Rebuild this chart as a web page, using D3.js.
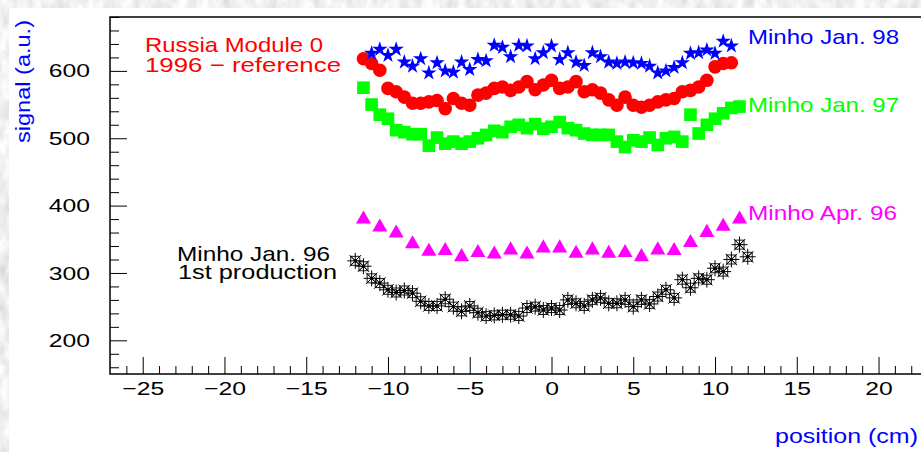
<!DOCTYPE html>
<html>
<head>
<meta charset="utf-8">
<script src="https://cdn.jsdelivr.net/npm/d3@7/dist/d3.min.js"></script>
<style>
  html, body { margin: 0; padding: 0; background: #ffffff; }
  svg { display: block; }
  text { font-family: "Liberation Sans", Arial, sans-serif; }
</style>
</head>
<body>
<svg id="chart" width="921" height="452"></svg>
<script>
// Signal uniformity scans along the module (position in cm, signal in a.u.)
const posJan98 = [-11, -10.5, -10, -9.5, -9, -8.5, -8, -7.5, -7, -6.5, -6, -5.5, -5, -4.5, -4, -3.5, -3, -2.5, -2, -1.5, -1, -0.5, 0, 0.5, 1, 1.5, 2, 2.5, 3, 3.5, 4, 4.5, 5, 5.5, 6, 6.5, 7, 7.5, 8, 8.5, 9, 9.5, 10, 10.5, 11];
const sigJan98 = [626, 632, 623, 632, 613, 607, 618, 597, 612, 600, 598, 613, 602, 617, 615, 638, 635, 621, 638, 637, 618, 627, 637, 617, 627, 613, 608, 627, 621, 613, 611, 613, 612, 611, 607, 597, 600, 605, 612, 626, 627, 631, 626, 644, 637];

const posRussia = [-11.5, -11, -10.5, -10, -9.5, -9, -8.5, -8, -7.5, -7, -6.5, -6, -5.5, -5, -4.5, -4, -3.5, -3, -2.5, -2, -1.5, -1, -0.5, 0, 0.5, 1, 1.5, 2, 2.5, 3, 3.5, 4, 4.5, 5, 5.5, 6, 6.5, 7, 7.5, 8, 8.5, 9, 9.5, 10, 10.5, 11];
const sigRussia = [618, 611, 601, 574, 569, 561, 552, 552, 554, 556, 544, 559, 552, 549, 564, 567, 574, 576, 571, 576, 584, 572, 579, 586, 574, 576, 584, 569, 572, 567, 557, 549, 561, 549, 546, 549, 554, 557, 559, 569, 571, 576, 586, 606, 611, 612];

const posJan97 = [-11.5, -11, -10.5, -10, -9.5, -9, -8.5, -8, -7.5, -7, -6.5, -6, -5.5, -5, -4.5, -4, -3.5, -3, -2.5, -2, -1.5, -1, -0.5, 0, 0.5, 1, 1.5, 2, 2.5, 3, 3.5, 4, 4.5, 5, 5.5, 6, 6.5, 7, 7.5, 8, 8.5, 9, 9.5, 10, 10.5, 11, 11.5];
const sigJan97 = [575, 550, 535, 529, 512, 509, 506, 506, 489, 501, 492, 495, 492, 495, 500, 505, 511, 509, 517, 520, 515, 521, 514, 517, 524, 515, 512, 507, 505, 505, 505, 495, 487, 497, 495, 501, 490, 500, 502, 495, 535, 507, 520, 529, 537, 545, 547];

const posApr96 = [-11.5, -10.5, -9.5, -8.5, -7.5, -6.5, -5.5, -4.5, -3.5, -2.5, -1.5, -0.5, 0.5, 1.5, 2.5, 3.5, 4.5, 5.5, 6.5, 7.5, 8.5, 9.5, 10.5, 11.5];
const sigApr96 = [380, 368, 359, 343, 332, 333, 324, 330, 328, 334, 328, 337, 337, 329, 334, 329, 330, 324, 334, 333, 345, 360, 369, 380];

const posJan96 = [-12, -11.5, -11, -10.5, -10, -9.5, -9, -8.5, -8, -7.5, -7, -6.5, -6, -5.5, -5, -4.5, -4, -3.5, -3, -2.5, -2, -1.5, -1, -0.5, 0, 0.5, 1, 1.5, 2, 2.5, 3, 3.5, 4, 4.5, 5, 5.5, 6, 6.5, 7, 7.5, 8, 8.5, 9, 9.5, 10, 10.5, 11, 11.5, 12];
const sigJan96 = [318, 310, 292, 285, 275, 271, 274, 270, 258, 251, 251, 261, 250, 243, 251, 241, 236, 237, 238, 238, 236, 248, 250, 245, 248, 245, 260, 255, 251, 260, 263, 255, 255, 260, 250, 260, 254, 265, 275, 263, 290, 278, 292, 290, 307, 302, 320, 342, 324];

const xMajorTicks = [-25, -20, -15, -10, -5, 0, 5, 10, 15, 20];
const yMajorTicks = [200, 300, 400, 500, 600];

const svg = d3.select("#chart");

// Grainy grey paper around the white canvas
const defs = svg.append("defs");
const grain = defs.append("filter").attr("id", "grain")
  .attr("x", 0).attr("y", 0).attr("width", "100%").attr("height", "100%");
grain.append("feTurbulence").attr("type", "fractalNoise")
  .attr("baseFrequency", "0.09 0.05").attr("numOctaves", 3).attr("seed", 7).attr("result", "n");
grain.append("feColorMatrix").attr("in", "n").attr("type", "matrix")
  .attr("values", "0.5 0 0 0 0.62  0.5 0 0 0 0.62  0.5 0 0 0 0.62  0 0 0 0 1");
svg.append("rect").attr("width", 921).attr("height", 452).attr("filter", "url(#grain)");
svg.append("rect").attr("x", 9).attr("y", 8).attr("width", 912).attr("height", 444).attr("fill", "#ffffff");

const x = d3.scaleLinear().domain([-27, 27]).range([110, 993]);
const y = d3.scaleLinear().domain([150, 680]).range([374, 17]);

// Stretch text horizontally to the wide raster look
function widen(sel, k) {
  sel.each(function () {
    const w = this.getComputedTextLength();
    d3.select(this).attr("textLength", w * k).attr("lengthAdjust", "spacingAndGlyphs");
  });
}

// Axes: ticks point into the frame
const xMinor = d3.range(-26, 26).filter(v => v % 5 !== 0);
svg.append("g").attr("transform", "translate(0,374)")
  .call(d3.axisBottom(x).tickValues(xMinor).tickSizeInner(-8).tickSizeOuter(0).tickFormat(""))
  .call(g => g.select(".domain").remove());
const gx = svg.append("g").attr("transform", "translate(0,374)")
  .call(d3.axisBottom(x).tickValues(xMajorTicks).tickSizeInner(-17).tickSizeOuter(0).tickPadding(8))
  .call(g => g.select(".domain").remove());
gx.selectAll("text").attr("font-size", 19).attr("fill", "#000")
  .style("font-family", "'Liberation Sans', Arial, sans-serif");
widen(gx.selectAll("text"), 1.3);

const yMinor = d3.range(160, 681, 20).filter(v => v % 100 !== 0);
svg.append("g").attr("transform", "translate(110,0)")
  .call(d3.axisLeft(y).tickValues(yMinor).tickSizeInner(-9).tickSizeOuter(0).tickFormat(""))
  .call(g => g.select(".domain").remove());
const gy = svg.append("g").attr("transform", "translate(110,0)")
  .call(d3.axisLeft(y).tickValues(yMajorTicks).tickSizeInner(-17).tickSizeOuter(0).tickPadding(20))
  .call(g => g.select(".domain").remove());
gy.selectAll("text").attr("font-size", 19).attr("fill", "#000")
  .style("font-family", "'Liberation Sans', Arial, sans-serif");
widen(gy.selectAll("text"), 1.3);
svg.selectAll(".tick line").attr("stroke", "#000").attr("stroke-width", 1);

// Frame
svg.append("rect").attr("x", 110).attr("y", 17).attr("width", 883).attr("height", 357)
  .attr("fill", "none").attr("stroke", "#000").attr("stroke-width", 1.5);

// Axis titles
svg.append("text").attr("transform", "translate(30,20) rotate(-90)")
  .attr("text-anchor", "end").attr("font-size", 20).attr("fill", "#0000ff")
  .attr("textLength", 123).attr("lengthAdjust", "spacingAndGlyphs").text("signal (a.u.)");
svg.append("text").attr("x", 775).attr("y", 443).attr("font-size", 20).attr("fill", "#0000ff")
  .attr("textLength", 143).attr("lengthAdjust", "spacingAndGlyphs").text("position (cm)");

// Markers
const plot = svg.append("g");

// Jan. 96: asterisks with small boxed crosses
const asterisk = "M0,-8L0,8M-8,0L8,0M-5.7,-5.7L5.7,5.7M-5.7,5.7L5.7,-5.7";
const boxX = "M-4.5,-4.5H4.5V4.5H-4.5Z M-4.5,-4.5L4.5,4.5M-4.5,4.5L4.5,-4.5";
const jan96 = plot.append("g").selectAll("g").data(d3.zip(posJan96, sigJan96)).join("g")
  .attr("transform", d => `translate(${x(d[0])},${y(d[1])})`);
jan96.append("path").attr("d", boxX).attr("fill", "none").attr("stroke", "#000").attr("stroke-width", 0.9);
jan96.append("path").attr("d", asterisk).attr("fill", "none").attr("stroke", "#000").attr("stroke-width", 1);
jan96.append("circle").attr("r", 1.8).attr("fill", "#000");

// Apr. 96: triangles
plot.append("g").selectAll("path").data(d3.zip(posApr96, sigApr96)).join("path")
  .attr("d", d3.symbol(d3.symbolTriangle, 98))
  .attr("transform", d => `translate(${x(d[0])},${y(d[1])})`)
  .attr("fill", "#ff00ff");

// Jan. 97: squares
plot.append("g").selectAll("path").data(d3.zip(posJan97, sigJan97)).join("path")
  .attr("d", d3.symbol(d3.symbolSquare, 160))
  .attr("transform", d => `translate(${x(d[0])},${y(d[1])})`)
  .attr("fill", "#00ff00");

// Russia Module 0 reference: circles
plot.append("g").selectAll("circle").data(d3.zip(posRussia, sigRussia)).join("circle")
  .attr("cx", d => x(d[0])).attr("cy", d => y(d[1])).attr("r", 6.8)
  .attr("fill", "#ff0000");

// Jan. 98: stars
plot.append("g").selectAll("path").data(d3.zip(posJan98, sigJan98)).join("path")
  .attr("d", d3.symbol(d3.symbolStar, 74))
  .attr("transform", d => `translate(${x(d[0])},${y(d[1])})`)
  .attr("fill", "#0000ff");

// Series labels
function label(txt, px, py, color, len, anchor) {
  svg.append("text").attr("x", px).attr("y", py).attr("font-size", 21)
    .attr("fill", color).attr("text-anchor", anchor || "start")
    .attr("textLength", len).attr("lengthAdjust", "spacingAndGlyphs").text(txt);
}
label("Russia Module 0", 145, 52, "#ff0000", 178);
label("1996 \u2212 reference", 145, 72, "#ff0000", 196);
label("Minho Jan. 98", 748, 44, "#0000ff", 151);
label("Minho Jan. 97", 748, 112, "#00ff00", 151);
label("Minho Apr. 96", 748, 220, "#ff00ff", 149);
label("Minho Jan. 96", 330, 261, "#000000", 153, "end");
label("1st production", 337, 279, "#000000", 159, "end");
</script>
</body>
</html>
